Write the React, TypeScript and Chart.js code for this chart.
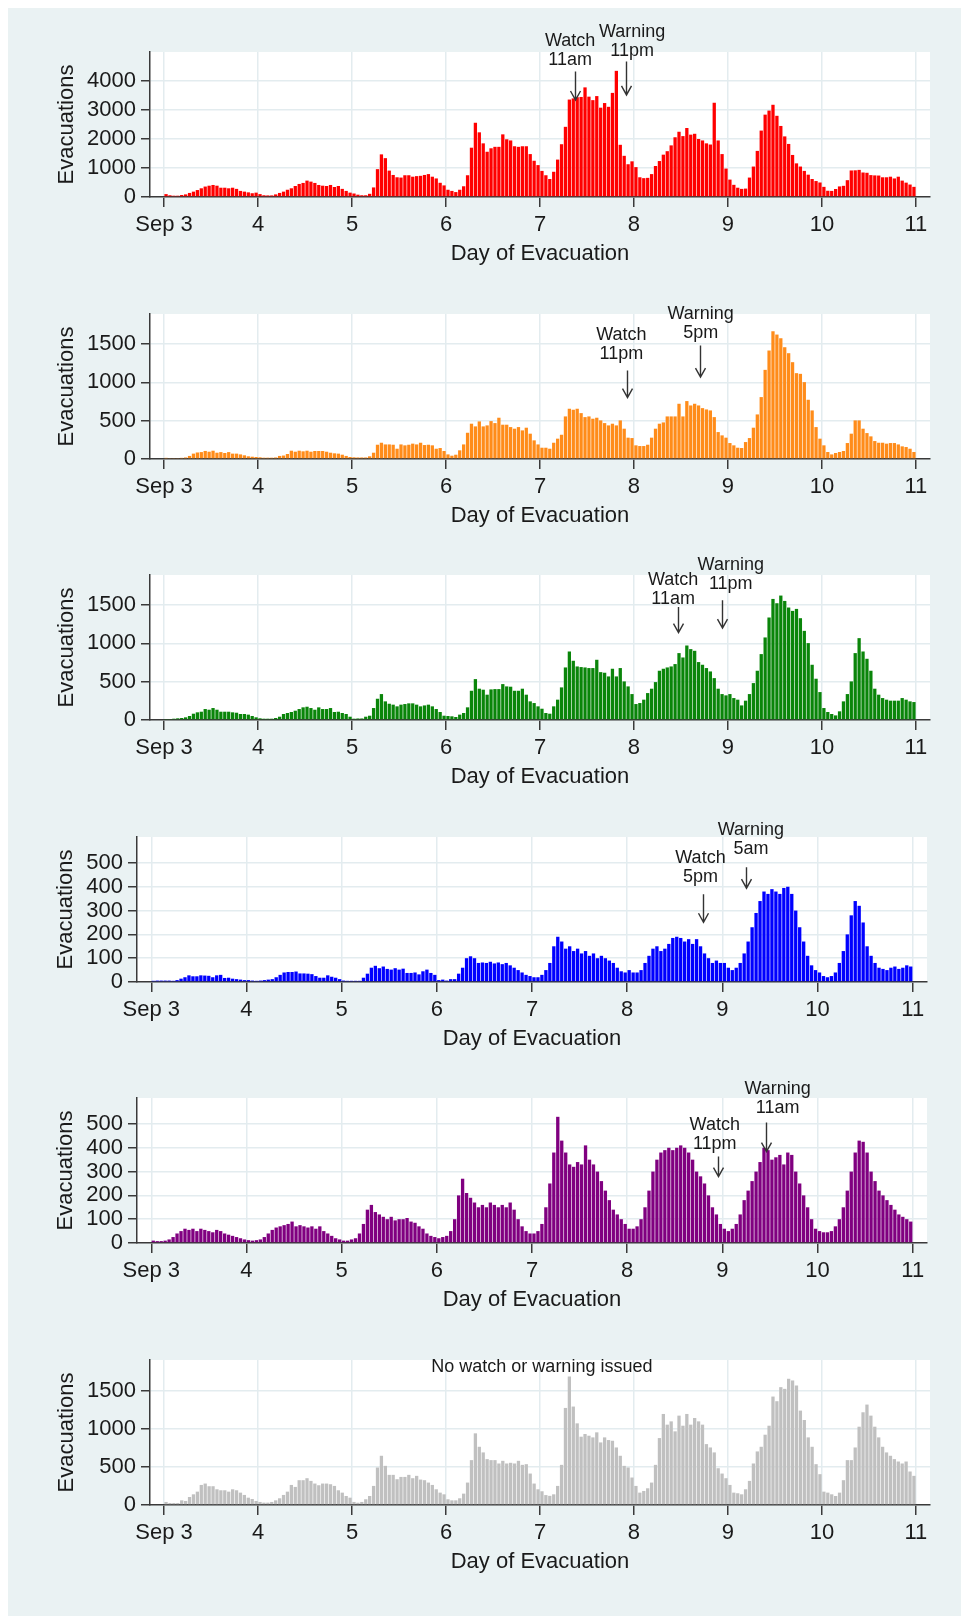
import React, { useEffect, useRef } from "react";
import { Chart, registerables } from "chart.js";
Chart.register(...registerables);

// ---------- data ----------
const xTickValues = [3, 4, 5, 6, 7, 8, 9, 10, 11];
const xTickLabels = ["Sep 3", "4", "5", "6", "7", "8", "9", "10", "11"];
const hoursPerDay = 24;
const firstDay = 3;

// hourly evacuations, Sep 3 00h .. Sep 10 23h (8 rows of 24)
const seriesRed = [
  100, 60, 45, 45, 70, 90, 140, 185, 240, 300, 360, 390, 415, 390, 320, 320, 300, 320, 280, 210, 185, 160, 130, 150,
  100, 60, 55, 55, 90, 140, 185, 250, 300, 380, 450, 485, 565, 530, 485, 415, 390, 380, 415, 345, 380, 280, 210, 150,
  120, 80, 60, 60, 110, 330, 960, 1470, 1340, 910, 760, 680, 670, 750, 750, 700, 720, 730, 760, 790, 700, 640, 490, 400,
  250, 210, 170, 250, 370, 750, 1700, 2560, 2230, 1850, 1560, 1680, 1730, 1730, 2160, 1990, 1950, 1750, 1730, 1750, 1750, 1480, 1250, 1100,
  900, 750, 620, 870, 1290, 1820, 2420, 3360, 3400, 3440, 3450, 3780, 3460, 3340, 3480, 3080, 3240, 3110, 3590, 4350, 1800, 1420, 1130, 1230,
  1030, 680, 650, 660, 790, 1070, 1240, 1460, 1580, 1780, 2060, 2250, 2100, 2380, 2150, 2180, 2000, 1950, 1850, 1810, 3250, 1950, 1480, 980,
  600, 420, 320, 280, 290, 670, 1050, 1590, 2290, 2840, 2980, 3180, 2800, 2450, 2090, 1830, 1450, 1160, 1050, 900, 770, 620, 550, 500,
  350, 215, 210, 275, 365, 385, 580, 915, 920, 935, 845, 835, 755, 745, 740, 680, 680, 700, 640, 700, 565, 495, 430, 350,
];

const seriesOrange = [
  15, 12, 12, 12, 15, 20, 40, 70, 85, 90, 105, 95, 108, 82, 90, 78, 90, 70, 70, 60, 48, 35, 30, 26,
  22, 17, 17, 17, 20, 40, 45, 65, 108, 95, 108, 100, 108, 95, 104, 104, 104, 95, 82, 74, 70, 56, 40, 26,
  22, 20, 20, 20, 35, 82, 186, 212, 190, 190, 186, 134, 190, 178, 186, 200, 190, 212, 182, 186, 178, 134, 143, 104,
  60, 43, 56, 113, 190, 342, 460, 425, 490, 425, 438, 494, 468, 538, 447, 447, 416, 395, 416, 373, 408, 330, 243, 190,
  147, 147, 134, 212, 265, 316, 555, 655, 642, 655, 598, 546, 555, 525, 538, 503, 468, 438, 460, 438, 503, 395, 278, 273,
  178, 169, 169, 186, 278, 395, 460, 477, 555, 555, 555, 720, 555, 755, 698, 720, 698, 663, 646, 633, 546, 351, 308, 278,
  208, 178, 147, 143, 221, 273, 408, 581, 807, 1162, 1414, 1665, 1622, 1574, 1457, 1379, 1262, 1119, 1110, 1002, 772, 633, 416, 265,
  178, 91, 60, 78, 91, 104, 208, 330, 503, 503, 395, 338, 295, 234, 212, 212, 200, 208, 208, 190, 165, 156, 134, 91,
];

const seriesGreen = [
  13, 13, 17, 22, 26, 35, 52, 82, 100, 108, 143, 134, 156, 134, 108, 108, 108, 100, 95, 78, 78, 70, 52, 35,
  22, 17, 17, 17, 26, 43, 78, 91, 104, 121, 143, 165, 173, 156, 134, 165, 143, 143, 156, 104, 108, 91, 78, 43,
  17, 20, 20, 43, 56, 156, 277, 338, 243, 212, 200, 178, 200, 208, 217, 217, 200, 178, 190, 200, 178, 143, 104, 56,
  52, 48, 39, 70, 91, 165, 381, 533, 408, 395, 330, 399, 403, 403, 468, 438, 434, 381, 381, 408, 330, 243, 221, 178,
  147, 91, 82, 178, 265, 425, 685, 893, 772, 698, 690, 685, 677, 677, 785, 624, 616, 568, 668, 568, 677, 503, 438, 338,
  208, 221, 265, 351, 408, 494, 642, 668, 685, 698, 729, 872, 815, 971, 924, 902, 755, 720, 677, 633, 546, 408, 338, 321,
  338, 286, 265, 190, 252, 338, 481, 642, 859, 1076, 1336, 1578, 1522, 1622, 1552, 1466, 1422, 1448, 1327, 1162, 1002, 720, 538, 364,
  156, 104, 78, 60, 113, 243, 338, 503, 872, 1067, 893, 798, 642, 408, 330, 286, 265, 252, 252, 252, 286, 265, 243, 234,
];

const seriesBlue = [
  5, 6, 6, 6, 6, 5, 8, 14, 20, 28, 24, 24, 28, 27, 26, 20, 28, 30, 17, 18, 14, 12, 10, 8,
  8, 6, 5, 6, 8, 10, 12, 20, 30, 40, 42, 42, 44, 36, 36, 35, 33, 25, 18, 18, 28, 22, 18, 12,
  6, 5, 5, 5, 5, 18, 35, 60, 68, 58, 65, 55, 52, 58, 52, 56, 38, 38, 40, 32, 45, 52, 38, 30,
  8, 10, 6, 12, 12, 35, 60, 100, 108, 100, 80, 82, 80, 85, 78, 82, 75, 80, 70, 60, 50, 40, 30, 25,
  20, 20, 30, 50, 80, 150, 190, 170, 140, 150, 130, 140, 120, 130, 110, 120, 100, 110, 100, 90, 80, 60, 45, 40,
  50, 40, 40, 50, 80, 110, 140, 150, 130, 140, 160, 185, 190, 185, 170, 180, 160, 180, 150, 120, 100, 80, 90, 80,
  80, 60, 50, 60, 80, 120, 170, 230, 290, 340, 380, 370, 390, 380, 370, 395, 400, 370, 300, 230, 170, 110, 70, 50,
  40, 25, 20, 25, 40, 80, 130, 200, 280, 340, 320, 250, 150, 110, 80, 60, 55, 50, 60, 65, 55, 60, 70, 65,
];

const seriesPurple = [
  10, 8, 8, 10, 15, 25, 40, 50, 60, 55, 60, 50, 60, 55, 50, 45, 55, 50, 40, 35, 30, 25, 20, 15,
  12, 10, 12, 15, 25, 40, 55, 65, 70, 75, 80, 90, 70, 75, 70, 65, 70, 60, 70, 50, 40, 30, 20, 15,
  10, 10, 15, 20, 40, 80, 140, 160, 130, 120, 110, 100, 110, 95, 100, 100, 105, 90, 85, 70, 60, 40, 30, 25,
  20, 25, 30, 50, 100, 200, 270, 210, 190, 170, 150, 160, 150, 170, 160, 150, 160, 150, 170, 140, 100, 70, 50, 40,
  40, 50, 80, 150, 250, 380, 530, 430, 380, 330, 320, 340, 330, 410, 350, 330, 300, 260, 220, 180, 140, 120, 100, 80,
  60, 60, 70, 100, 150, 220, 300, 350, 380, 390, 400, 390, 400, 410, 400, 380, 350, 300, 280, 250, 200, 150, 120, 80,
  60, 50, 60, 80, 120, 180, 220, 260, 300, 340, 400, 390, 350, 360, 370, 330, 380, 370, 300, 250, 200, 150, 100, 60,
  50, 45, 45, 50, 70, 100, 150, 220, 300, 380, 430, 425, 380, 300, 260, 220, 200, 180, 160, 140, 120, 110, 100, 90,
];

const seriesGray = [
  40, 26, 26, 26, 61, 53, 105, 140, 175, 263, 281, 246, 246, 206, 193, 193, 175, 206, 193, 162, 132, 96, 79, 53,
  40, 31, 31, 40, 61, 88, 132, 175, 263, 237, 325, 325, 351, 316, 281, 259, 281, 281, 272, 250, 193, 162, 118, 96,
  40, 30, 40, 75, 118, 250, 491, 645, 513, 395, 395, 338, 368, 368, 395, 351, 382, 333, 325, 294, 263, 206, 162, 140,
  75, 61, 61, 88, 149, 294, 588, 939, 763, 689, 601, 588, 588, 544, 579, 544, 553, 544, 579, 526, 535, 412, 281, 206,
  180, 130, 120, 140, 250, 526, 1272, 1684, 1290, 1070, 895, 930, 908, 886, 952, 820, 886, 851, 842, 754, 645, 513, 491, 360,
  250, 162, 184, 219, 294, 526, 877, 1193, 1053, 1096, 965, 1171, 1039, 1193, 1053, 1140, 1096, 1053, 798, 754, 689, 482, 412, 351,
  263, 162, 154, 140, 206, 316, 544, 702, 763, 921, 1039, 1421, 1360, 1544, 1522, 1654, 1632, 1566, 1237, 1114, 886, 763, 535, 404,
  175, 162, 140, 118, 162, 325, 588, 588, 754, 1026, 1215, 1316, 1171, 1026, 886, 763, 689, 645, 601, 570, 544, 570, 439, 382,
];

const yTicksLarge = [0, 1000, 2000, 3000, 4000];
const yTicksMid = [0, 500, 1000, 1500];
const yTicksSmall = [0, 100, 200, 300, 400, 500];

// ---------- styles / layout ----------
const FONT = '"Liberation Sans", Arial, Helvetica, sans-serif';
const BG = "#eaf2f3";
const GRID = "#e3ecef";
const AXIS = "#3a3a3a";
const TEXT = "#1a1a1a";
const PANEL_STEP = 261.6;
const CANVAS_W = 953;
const CANVAS_H = 262;

type Note = {
  textX: number;
  textY: number;
  lines: string[];
  arrowX?: number;
  arrowFrom?: number;
  arrowTo?: number;
};

type Panel = {
  values: number[];
  color: string;
  yTicks: number[];
  yMax: number;
  left: number;
  right: number;
  titleOffset: number;
  notes: Note[];
};

const panels: Panel[] = [
  {
    values: seriesRed, color: "#ff0000", yTicks: yTicksLarge, yMax: 5000, left: 142, right: 922, titleOffset: 46,
    notes: [
      { textX: 7.32, textY: 5363, lines: ["Watch", "11am"], arrowX: 7.37, arrowFrom: 4325, arrowTo: 3346 },
      { textX: 7.98, textY: 5689, lines: ["Warning", "11pm"], arrowX: 7.91, arrowFrom: 4671, arrowTo: 3519 },
    ],
  },
  {
    values: seriesOrange, color: "#ff8c1a", yTicks: yTicksMid, yMax: 1890, left: 142, right: 922, titleOffset: 46,
    notes: [
      { textX: 7.866, textY: 1611, lines: ["Watch", "11pm"], arrowX: 7.93, arrowFrom: 1155, arrowTo: 800 },
      { textX: 8.71, textY: 1888, lines: ["Warning", "5pm"], arrowX: 8.7, arrowFrom: 1480, arrowTo: 1068 },
    ],
  },
  {
    values: seriesGreen, color: "#0a850a", yTicks: yTicksMid, yMax: 1890, left: 142, right: 922, titleOffset: 46,
    notes: [
      { textX: 8.417, textY: 1822, lines: ["Watch", "11am"], arrowX: 8.47, arrowFrom: 1474, arrowTo: 1139 },
      { textX: 9.03, textY: 2021, lines: ["Warning", "11pm"], arrowX: 8.94, arrowFrom: 1561, arrowTo: 1197 },
    ],
  },
  {
    values: seriesBlue, color: "#0000ff", yTicks: yTicksSmall, yMax: 609, left: 129, right: 919, titleOffset: 45,
    notes: [
      { textX: 8.77, textY: 520, lines: ["Watch", "5pm"], arrowX: 8.8, arrowFrom: 369, arrowTo: 251 },
      { textX: 9.3, textY: 637, lines: ["Warning", "5am"], arrowX: 9.25, arrowFrom: 482, arrowTo: 394 },
    ],
  },
  {
    values: seriesPurple, color: "#800080", yTicks: yTicksSmall, yMax: 609, left: 129, right: 919, titleOffset: 45,
    notes: [
      { textX: 8.92, textY: 497, lines: ["Watch", "11pm"], arrowX: 8.95, arrowFrom: 363, arrowTo: 279 },
      { textX: 9.58, textY: 645, lines: ["Warning", "11am"], arrowX: 9.46, arrowFrom: 506, arrowTo: 384 },
    ],
  },
  {
    values: seriesGray, color: "#c0c0c0", yTicks: yTicksMid, yMax: 1900, left: 142, right: 922, titleOffset: 46,
    notes: [{ textX: 7.02, textY: 1807, lines: ["No watch or warning issued"] }],
  },
];

function makePoints(values: number[]) {
  return values.map((v, i) => ({ x: firstDay + (i + 0.5) / hoursPerDay, y: v }));
}

function PanelChart({ cfg, top }: { cfg: Panel; top: number }) {
  const ref = useRef<HTMLCanvasElement | null>(null);
  useEffect(() => {
    if (!ref.current) return;
    const plotBg = {
      id: "plotBg",
      beforeDraw(chart: any) {
        const { ctx, chartArea } = chart;
        ctx.save();
        ctx.fillStyle = "#ffffff";
        ctx.fillRect(chartArea.left, chartArea.top, chartArea.right - chartArea.left, chartArea.bottom - chartArea.top);
        ctx.restore();
      },
    };
    const notesPlugin = {
      id: "notes",
      afterDatasetsDraw(chart: any) {
        const { ctx, scales } = chart;
        const xs = scales.x, ys = scales.y;
        ctx.save();
        ctx.font = `18px ${FONT}`;
        ctx.fillStyle = TEXT;
        ctx.textAlign = "center";
        ctx.textBaseline = "middle";
        for (const n of cfg.notes) {
          const tx = xs.getPixelForValue(n.textX);
          const ty = ys.getPixelForValue(n.textY);
          n.lines.forEach((line, i) => ctx.fillText(line, tx, ty + i * 19));
          if (n.arrowX !== undefined && n.arrowFrom !== undefined && n.arrowTo !== undefined) {
            const ax = Math.round(xs.getPixelForValue(n.arrowX)) + 0.5;
            const y1 = ys.getPixelForValue(n.arrowFrom);
            const y2 = ys.getPixelForValue(n.arrowTo);
            ctx.strokeStyle = "#333333";
            ctx.lineWidth = 1.4;
            ctx.beginPath();
            ctx.moveTo(ax, y1);
            ctx.lineTo(ax, y2);
            ctx.moveTo(ax - 5, y2 - 9);
            ctx.lineTo(ax, y2);
            ctx.lineTo(ax + 5, y2 - 9);
            ctx.stroke();
          }
        }
        ctx.restore();
      },
    };
    const chart = new Chart(ref.current, {
      type: "bar",
      data: {
        datasets: [
          {
            data: makePoints(cfg.values) as any,
            backgroundColor: cfg.color,
            borderWidth: 0,
            barPercentage: 0.84,
            categoryPercentage: 1,
          },
        ],
      },
      options: {
        animation: false,
        responsive: false,
        events: [],
        layout: { padding: { top: 44, left: 0, right: CANVAS_W - cfg.right, bottom: 0 } },
        plugins: { legend: { display: false }, tooltip: { enabled: false } },
        scales: {
          x: {
            type: "linear",
            min: 2.85,
            max: 11.15,
            offset: false,
            afterBuildTicks: (s: any) => {
              s.ticks = xTickValues.map((v) => ({ value: v }));
            },
            afterFit: (s: any) => {
              s.height = 73;
            },
            grid: { color: GRID, lineWidth: 1.5, tickColor: AXIS, tickLength: 10, tickWidth: 1.5, offset: false },
            border: { display: true, color: AXIS, width: 1.5 },
            ticks: {
              autoSkip: false,
              maxRotation: 0,
              padding: 5,
              color: TEXT,
              font: { family: FONT, size: 22 },
              callback: (v: any) => xTickLabels[xTickValues.indexOf(Number(v))] ?? "",
            },
            title: {
              display: true,
              text: "Day of Evacuation",
              color: TEXT,
              font: { family: FONT, size: 22 },
              padding: { top: 0, bottom: 3 },
            },
          },
          y: {
            min: 0,
            max: cfg.yMax,
            afterBuildTicks: (s: any) => {
              s.ticks = cfg.yTicks.map((v) => ({ value: v }));
            },
            afterFit: (s: any) => {
              s.width = cfg.left;
            },
            grid: { color: GRID, lineWidth: 1.5, tickColor: AXIS, tickLength: 9, tickWidth: 1.5 },
            border: { display: true, color: AXIS, width: 1.5 },
            ticks: {
              autoSkip: false,
              padding: 5,
              color: TEXT,
              font: { family: FONT, size: 22 },
              callback: (v: any) => String(v),
            },
            title: {
              display: true,
              text: "Evacuations",
              color: TEXT,
              font: { family: FONT, size: 22 },
              padding: { top: cfg.titleOffset, bottom: 0 },
            },
          },
        },
      },
      plugins: [plotBg, notesPlugin],
    });
    return () => chart.destroy();
  }, [cfg]);
  return (
    <div style={{ position: "absolute", left: 0, top, width: CANVAS_W, height: CANVAS_H }}>
      <canvas ref={ref} width={CANVAS_W} height={CANVAS_H} style={{ width: CANVAS_W, height: CANVAS_H, display: "block" }} />
    </div>
  );
}

export default function App() {
  useEffect(() => {
    document.body.style.margin = "8px 0 0 8px";
  }, []);
  return (
    <div style={{ position: "relative", width: CANVAS_W, height: 1608, background: BG, overflow: "hidden" }}>
      {panels.map((p, k) => (
        <PanelChart key={k} cfg={p} top={Math.round(k * PANEL_STEP)} />
      ))}
    </div>
  );
}
